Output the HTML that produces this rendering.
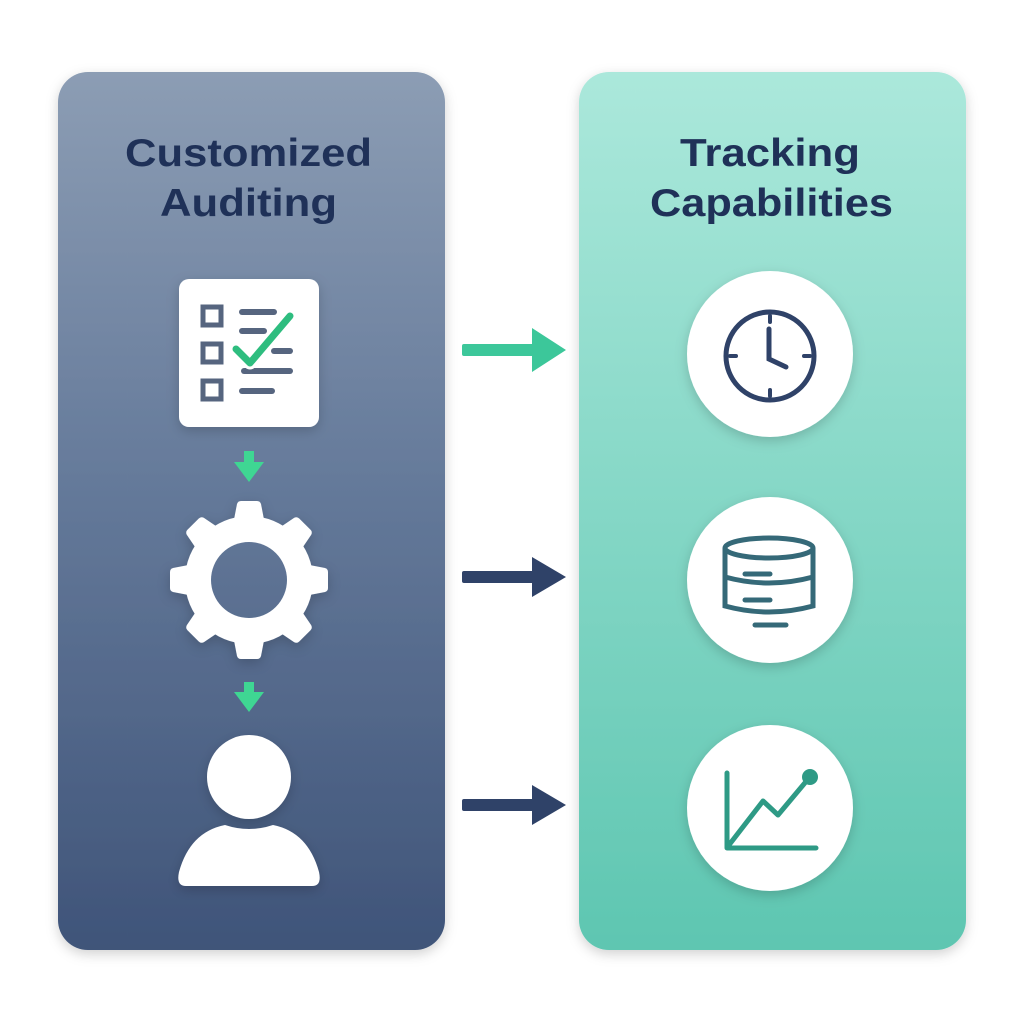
<!DOCTYPE html>
<html><head><meta charset="utf-8"><style>
html,body{margin:0;padding:0;background:#fff;}
svg{display:block}
text{font-family:"Liberation Sans",sans-serif;font-weight:bold;}
</style></head><body>
<svg width="1024" height="1024" viewBox="0 0 1024 1024" xmlns="http://www.w3.org/2000/svg">
<defs>
<linearGradient id="gl" x1="0" y1="0" x2="0" y2="1">
<stop offset="0" stop-color="#8c9db4"/><stop offset="0.45" stop-color="#667b9b"/><stop offset="1" stop-color="#3f5479"/>
</linearGradient>
<linearGradient id="gr" x1="0" y1="0" x2="0" y2="1">
<stop offset="0" stop-color="#abe8db"/><stop offset="1" stop-color="#5ec6b1"/>
</linearGradient>
<filter id="sh" x="-30%" y="-30%" width="160%" height="160%"><feDropShadow dx="0" dy="4" stdDeviation="6" flood-color="#000" flood-opacity="0.18"/></filter>
<mask id="gm"><rect x="0" y="0" width="1024" height="1024" fill="#fff"/><circle cx="249" cy="580" r="38" fill="#000"/></mask>
</defs>
<rect x="58" y="72" width="387" height="878" rx="30" fill="url(#gl)" filter="url(#sh)"/>
<rect x="579" y="72" width="387" height="878" rx="30" fill="url(#gr)" filter="url(#sh)"/>

<text x="125" y="166" font-size="39" fill="#1f3158" textLength="247" lengthAdjust="spacingAndGlyphs">Customized</text>
<text x="160" y="216" font-size="39" fill="#1f3158" textLength="177" lengthAdjust="spacingAndGlyphs">Auditing</text>
<text x="680" y="166" font-size="39" fill="#1f3158" textLength="180" lengthAdjust="spacingAndGlyphs">Tracking</text>
<text x="650" y="216" font-size="39" fill="#1f3158" textLength="243" lengthAdjust="spacingAndGlyphs">Capabilities</text>

<!-- checklist -->
<rect x="179" y="279" width="140" height="148" rx="10" fill="#fff" filter="url(#sh)"/>
<g fill="none" stroke="#56657f" stroke-width="5">
<rect x="203" y="307" width="18" height="18"/><rect x="203" y="344" width="18" height="18"/><rect x="203" y="381" width="18" height="18"/>
</g>
<g stroke="#56657f" stroke-width="6" stroke-linecap="round">
<line x1="242" y1="312" x2="274" y2="312"/><line x1="242" y1="331" x2="264" y2="331"/>
<line x1="274" y1="351" x2="290" y2="351"/><line x1="244" y1="371" x2="290" y2="371"/><line x1="242" y1="391" x2="272" y2="391"/>
</g>
<polyline points="236,349 250,363 290,316" fill="none" stroke="#fff" stroke-width="13" stroke-linecap="round" stroke-linejoin="round"/>
<polyline points="236,349 250,363 290,316" fill="none" stroke="#2ebd7f" stroke-width="7" stroke-linecap="round" stroke-linejoin="round"/>

<!-- small green arrows -->
<g fill="#3fd693">
<rect x="244" y="451" width="10" height="13"/><polygon points="234,462 264,462 249,482"/>
<rect x="244" y="682" width="10" height="12"/><polygon points="234,692 264,692 249,712"/>
</g>

<!-- gear -->
<g fill="#fff" mask="url(#gm)" filter="url(#sh)">
<circle cx="249" cy="580" r="64"/>
<g transform="translate(249,580)">
<path id="tooth" d="M-17,-50 L-12,-76 Q-11,-79 -8,-79 L8,-79 Q11,-79 12,-76 L17,-50 Z"/>
<use href="#tooth" transform="rotate(45)"/>
<use href="#tooth" transform="rotate(90)"/>
<use href="#tooth" transform="rotate(135)"/>
<use href="#tooth" transform="rotate(180)"/>
<use href="#tooth" transform="rotate(225)"/>
<use href="#tooth" transform="rotate(270)"/>
<use href="#tooth" transform="rotate(315)"/>
</g>
</g>

<!-- person -->
<g fill="#fff" filter="url(#sh)">
<circle cx="249" cy="777" r="42"/>
<path d="M186,886 Q176,886 179,872 Q190,832 225,825 Q249,833 273,825 Q308,832 319,872 Q322,886 312,886 Z"/>
</g>

<!-- horizontal arrows -->
<g fill="#3cc79a"><rect x="462" y="344" width="75" height="12" rx="2"/><polygon points="532,328 566,350 532,372"/></g>
<g fill="#2f4268"><rect x="462" y="571" width="75" height="12" rx="2"/><polygon points="532,557 566,577 532,597"/></g>
<g fill="#2f4268"><rect x="462" y="799" width="75" height="12" rx="2"/><polygon points="532,785 566,805 532,825"/></g>

<!-- circles -->
<g fill="#fff" filter="url(#sh)">
<circle cx="770" cy="354" r="83"/><circle cx="770" cy="580" r="83"/><circle cx="770" cy="808" r="83"/>
</g>
<!-- clock -->
<circle cx="770" cy="356" r="44" fill="none" stroke="#2f4268" stroke-width="5"/>
<g stroke="#2f4268" stroke-width="4" stroke-linecap="round">
<line x1="770" y1="316" x2="770" y2="322"/><line x1="770" y1="390" x2="770" y2="396"/>
<line x1="730" y1="356" x2="736" y2="356"/><line x1="804" y1="356" x2="810" y2="356"/>
<polyline points="769,329 769,359 786,367" fill="none" stroke-width="5"/>
</g>
<!-- database -->
<g fill="none" stroke="#356978" stroke-width="5">
<ellipse cx="769" cy="548" rx="44" ry="10"/>
<path d="M725,548 V606 Q769,618 813,606 V548"/>
<path d="M725,577 Q769,589 813,577"/>
</g>
<g stroke="#356978" stroke-width="5" stroke-linecap="round">
<line x1="745" y1="574" x2="770" y2="574"/><line x1="745" y1="600" x2="770" y2="600"/><line x1="755" y1="625" x2="786" y2="625"/>
</g>
<!-- chart -->
<g fill="none" stroke="#2e9a85" stroke-width="5" stroke-linecap="round" stroke-linejoin="round">
<polyline points="727,773 727,848 816,848"/>
<polyline points="729,845 763,801 778,815 809,778"/>
</g>
<circle cx="810" cy="777" r="8" fill="#2e9a85"/>
</svg>
</body></html>
